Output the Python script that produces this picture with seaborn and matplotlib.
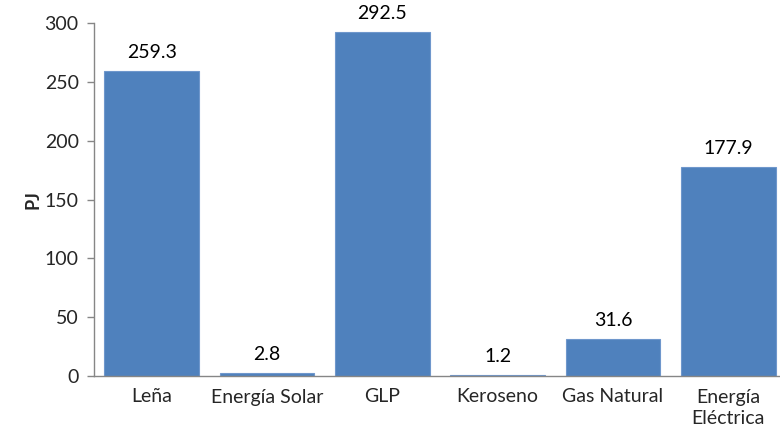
import numpy as np
import pandas as pd
import matplotlib
matplotlib.use("Agg")
import matplotlib.pyplot as plt
import seaborn as sns

# data
categories = ["Leña", "Energía Solar", "GLP", "Keroseno", "Gas Natural", "Energía\nEléctrica"]
values = [259.3, 2.8, 292.5, 1.2, 31.6, 177.9]
yticks = [0, 50, 100, 150, 200, 250, 300]

sns.set_style("white")
plt.rcParams["font.family"] = ["Lato", "DejaVu Sans"]

df = pd.DataFrame({"cat": categories, "val": values})

fig = plt.figure(figsize=(7.8, 4.4), dpi=100)
ax = fig.add_axes([94 / 780, 1 - 376 / 440, (786 - 94) / 780, (376 - 23) / 440])

sns.barplot(data=df, x="cat", y="val", color="#4F81BD", saturation=1, width=0.82,
            edgecolor="#6F97CC", linewidth=0.8, ax=ax)

for i, v in enumerate(values):
    ax.annotate(f"{v:.1f}", (i, v), xytext=(0, 7), textcoords="offset points",
                ha="center", va="bottom", fontsize=14, color="black")

ax.set_ylim(0, 300)
ax.set_xlim(-0.5, len(categories) - 0.5)
ax.set_yticks(yticks)
ax.set_yticklabels([str(t) for t in yticks], fontsize=14)
ax.set_xticks(np.arange(len(categories)))
ax.set_xticklabels(categories, fontsize=14, linespacing=1.3)
ax.set_xticks(np.arange(len(categories)) - 0.5, minor=True)
ax.tick_params(axis="x", which="major", length=0, pad=9)
ax.tick_params(axis="x", which="minor", length=5, color="#868686", width=1)
ax.tick_params(axis="y", length=5, color="#868686", width=1, left=True, pad=6)
ax.set_xlabel("")
ax.set_ylabel("PJ", fontsize=13, fontweight="bold", labelpad=2)

for side in ["top", "right"]:
    ax.spines[side].set_visible(False)
for side in ["left", "bottom"]:
    ax.spines[side].set_color("#868686")
    ax.spines[side].set_linewidth(1)

fig.savefig("out.png", dpi=100)
